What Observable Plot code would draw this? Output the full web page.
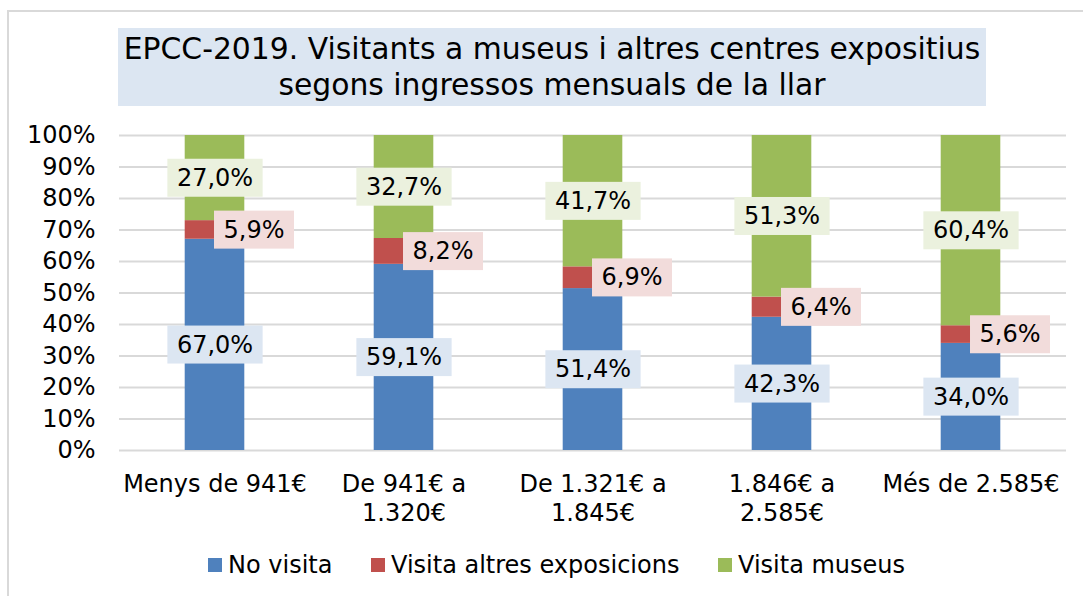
<!DOCTYPE html>
<html>
<head>
<meta charset="utf-8">
<script src="https://cdn.jsdelivr.net/npm/d3@7"></script>
<script src="https://cdn.jsdelivr.net/npm/@observablehq/plot@0.6"></script>
<style>
  html, body { margin: 0; padding: 0; background: #fff; overflow: hidden; }
  body { font-family: "DejaVu Sans", Verdana, sans-serif; color: #000; }
  #wrap { position: relative; width: 1083px; height: 596px; overflow: hidden; }
  #frame { position: absolute; left: 7px; top: 10px; width: 1120px; height: 640px; border: 2px solid #d9d9d9; box-sizing: border-box; }
  #chart { position: absolute; left: 0; top: 0; }
  #title { position: absolute; left: 118px; top: 28px; width: 868px; height: 78px; background: #dce6f2;
           font-size: 29.8px; line-height: 36px; text-align: center; padding-top: 3px; box-sizing: border-box; white-space: nowrap; }
  .leg { position: absolute; top: 551px; font-size: 24px; line-height: 28px; white-space: nowrap; }
  .sw { position: absolute; top: 7px; width: 14px; height: 14px; }
  .leg span.t { position: absolute; left: 20px; top: 0; }
</style>
</head>
<body>
<div id="wrap">
  <div id="frame"></div>
  <div id="chart"></div>
  <div id="title">EPCC-2019. Visitants a museus i altres centres expositius<br>segons ingressos mensuals de la llar</div>
  <div id="legend"></div>
</div>
<script>
const categories = ["Menys de 941€", "De 941€ a\n1.320€", "De 1.321€ a\n1.845€", "1.846€ a\n2.585€", "Més de 2.585€"];
const series = ["No visita", "Visita altres exposicions", "Visita museus"];
const noVisita = [67.0, 59.1, 51.4, 42.3, 34.0];
const altresExposicions = [5.9, 8.2, 6.9, 6.4, 5.6];
const visitaMuseus = [27.0, 32.7, 41.7, 51.3, 60.4];
const yTicks = [0, 10, 20, 30, 40, 50, 60, 70, 80, 90, 100];
const colors = ["#4f81bd", "#c0504d", "#9bbb59"];
const labelBg = ["#dce6f2", "#f2dcdb", "#ebf1de"];
const legendX = [208, 371, 718];

const valuesBySeries = [noVisita, altresExposicions, visitaMuseus];
const data = [];
series.forEach((s, si) => {
  categories.forEach((c, ci) => data.push({cat: c, series: s, si, value: valuesBySeries[si][ci]}));
});
const fmt = v => v.toFixed(1).replace(".", ",") + "%";

const labelMarks = series.map((s, si) =>
  Plot.text(data, Plot.stackY({
    x: "cat", y: "value", z: "series", offset: "normalize",
    text: d => d.series === s ? fmt(d.value) : null,
    fontSize: 24, fill: "#000", dx: si === 1 ? 39 : 0
  }))
);

const chart = Plot.plot({
  width: 1083, height: 540,
  marginTop: 135, marginBottom: 90, marginLeft: 119, marginRight: 17,
  style: {fontFamily: "'DejaVu Sans', Verdana, sans-serif", background: "transparent", color: "#000"},
  x: {domain: categories, padding: 0, label: null},
  y: {domain: [0, 1], label: null},
  color: {domain: series, range: colors},
  marks: [
    Plot.gridY(yTicks.map(t => t / 100), {stroke: "#d9d9d9", strokeOpacity: 1, strokeWidth: 2}),
    Plot.axisY(yTicks.map(t => t / 100), {tickSize: 0, tickPadding: 24, fontSize: 24, tickFormat: d => Math.round(d * 100) + "%", label: null}),
    Plot.axisX({tickSize: 0, tickPadding: 21, fontSize: 24, lineHeight: 1.2, label: null}),
    Plot.barY(data, Plot.stackY({x: "cat", y: "value", fill: "series", offset: "normalize", insetLeft: 64.7, insetRight: 64.7})),
    ...labelMarks
  ]
});
document.getElementById("chart").appendChild(chart);

// background boxes behind the data labels (the three label marks are the last three text groups)
const textGroups = Array.from(chart.querySelectorAll('g[aria-label="text"]')).slice(-3);
textGroups.forEach((g, si) => {
  g.querySelectorAll("text").forEach(t => {
    const b = t.getBBox();
    const r = document.createElementNS("http://www.w3.org/2000/svg", "rect");
    const padX = 9.5, padY = 6;
    r.setAttribute("x", b.x - padX);
    r.setAttribute("y", b.y - padY + 1);
    r.setAttribute("width", b.width + 2 * padX);
    r.setAttribute("height", b.height + 2 * padY - 2);
    r.setAttribute("fill", labelBg[si]);
    const tr = t.getAttribute("transform");
    if (tr) r.setAttribute("transform", tr);
    g.insertBefore(r, t);
  });
});

const legend = document.getElementById("legend");
series.forEach((s, i) => {
  const d = document.createElement("div");
  d.className = "leg";
  d.style.left = legendX[i] + "px";
  d.innerHTML = `<div class="sw" style="background:${colors[i]}"></div><span class="t">${s}</span>`;
  legend.appendChild(d);
});
</script>
</body>
</html>
